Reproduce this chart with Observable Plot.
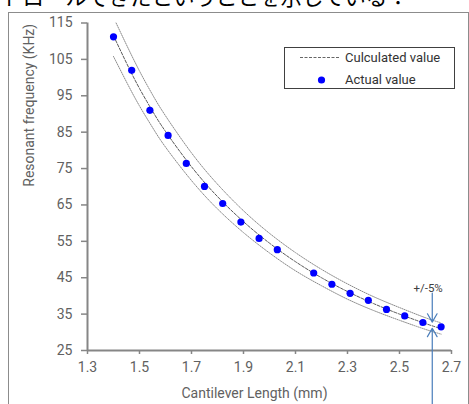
<!DOCTYPE html>
<html>
<head>
<meta charset="utf-8">
<script src="https://cdn.jsdelivr.net/npm/d3@7"></script>
<script src="https://cdn.jsdelivr.net/npm/@observablehq/plot@0.6"></script>
<style>
  body { margin: 0; background: #fff; font-family: Roboto, "Liberation Sans", sans-serif; }
  #wrap { position: relative; width: 469px; height: 404px; overflow: hidden; }
  #head { position: absolute; left: 0; top: 0; width: 469px; height: 12px; overflow: hidden; }
  #head span { position: absolute; left: -42px; top: -15px; font-family: "Noto Sans CJK JP"; font-size: 21.5px; line-height: 22px; color: #000; white-space: nowrap; }
  #frame { position: absolute; left: 8px; top: 12px; width: 459px; height: 420px; border: 1px solid #8c8c8c; }
  #chart { position: absolute; left: 0; top: 0; }
  #legend { position: absolute; left: 284px; top: 47px; width: 169px; height: 40px; border: 1px solid #404040; background: #fff; font-size: 13px; color: #333; }
  #legend svg { position: absolute; left: 0; top: 0; }
  #legend .t { position: absolute; left: 60px; line-height: 14px; white-space: nowrap; }
</style>
</head>
<body>
<div id="wrap">
  <div id="head"><span id="headtext"></span></div>
  <div id="frame"></div>
  <div id="chart"></div>
  <div id="legend">
    <svg width="169" height="40">
      <line x1="15" x2="55" y1="9.5" y2="9.5" stroke="#666" stroke-width="1" stroke-dasharray="3,1.5"></line>
      <circle cx="36.5" cy="32" r="3.6" fill="#0000ff"></circle>
    </svg>
    <div class="t" style="top:3px" id="leg1"></div>
    <div class="t" style="top:25px" id="leg2"></div>
  </div>
</div>
<script>
// ---- data ----
const headText = "コントロールできたということを示している：";
const xTicks = [1.3, 1.5, 1.7, 1.9, 2.1, 2.3, 2.5, 2.7];
const yTicks = [25, 35, 45, 55, 65, 75, 85, 95, 105, 115];

const actualLength = [1.40, 1.47, 1.54, 1.61, 1.68, 1.75, 1.82, 1.89, 1.96, 2.03, 2.17, 2.24, 2.31, 2.38, 2.45, 2.52, 2.59, 2.66];
const actualFreq   = [111.2, 102.0, 91.0, 84.1, 76.4, 70.1, 65.4, 60.3, 55.8, 52.7, 46.3, 43.2, 40.7, 38.8, 36.3, 34.5, 32.7, 31.5];

const calcLength = [1.40, 1.45, 1.50, 1.55, 1.60, 1.70, 1.80, 1.90, 2.00, 2.10, 2.20, 2.30, 2.40, 2.50, 2.60, 2.66];
const calcFreq   = [111.5, 104.0, 97.0, 90.8, 85.2, 75.5, 67.3, 60.4, 54.5, 49.4, 45.0, 41.2, 37.9, 35.0, 32.4, 31.0];

const upperLength = [1.41, 1.45, 1.50, 1.55, 1.60, 1.70, 1.80, 1.90, 2.00, 2.10, 2.20, 2.30, 2.40, 2.50, 2.60, 2.66];
const upperFreq   = [115.0, 109.0, 101.8, 95.3, 89.5, 79.3, 70.7, 63.4, 57.2, 51.9, 47.3, 43.3, 39.8, 36.8, 34.0, 32.6];

const lowerLength = [1.40, 1.45, 1.50, 1.55, 1.60, 1.70, 1.80, 1.90, 2.00, 2.10, 2.20, 2.30, 2.40, 2.50, 2.60, 2.66];
const lowerFreq   = [105.8, 98.8, 92.2, 86.3, 80.9, 71.7, 63.9, 57.4, 51.8, 46.9, 42.8, 39.1, 36.0, 33.3, 30.8, 29.5];

const seriesNames = ["Culculated value", "Actual value"];
const xLabel = "Cantilever Length (mm)";
const yLabel = "Resonant frequency (KHz)";

// tolerance annotation
const tolLabel = "+/-5%";
const tolX = 2.626;
const tolLabelPos = [2.61, 42.2];
const arrowFrom = [40.8, 10.3];
const arrowTo = [32.8, 31.1];

// ---- build ----
document.getElementById("headtext").textContent = headText;
document.getElementById("leg1").textContent = seriesNames[0];
document.getElementById("leg2").textContent = seriesNames[1];

const zip = (xs, ys) => xs.map((x, i) => ({x, y: ys[i]}));
const actual = zip(actualLength, actualFreq);
const calc = zip(calcLength, calcFreq);
const upper = zip(upperLength, upperFreq);
const lower = zip(lowerLength, lowerFreq);
const arrows = arrowFrom.map((y1, i) => ({x: tolX, y1, y2: arrowTo[i]}));

const axisColor = "#868686";
const textColor = "#616161";

const plot = Plot.plot({
  width: 469,
  height: 404,
  marginLeft: 87,
  marginRight: 18,
  marginTop: 22.5,
  marginBottom: 54,
  style: {fontFamily: "Roboto, 'Liberation Sans', sans-serif", background: "transparent", overflow: "visible"},
  x: {domain: [1.3, 2.7]},
  y: {domain: [25, 115]},
  marks: [
    Plot.line(upper, {x: "x", y: "y", stroke: "#8a8a8a", strokeWidth: 1, strokeDasharray: "1,1.2", curve: "natural"}),
    Plot.line(lower, {x: "x", y: "y", stroke: "#8a8a8a", strokeWidth: 1, strokeDasharray: "1,1.2", curve: "natural"}),
    Plot.line(calc, {x: "x", y: "y", stroke: "#5a5a5a", strokeWidth: 1, strokeDasharray: "3,1.5", curve: "natural"}),
    Plot.dot(actual, {x: "x", y: "y", r: 3.6, fill: "#0000ff", stroke: "none"}),
    Plot.axisY({ticks: yTicks, tickSize: 6, tickPadding: 9, stroke: axisColor, strokeWidth: 1.5, color: textColor, fontSize: 14, label: null}),
    Plot.axisX({ticks: xTicks, tickFormat: d => d.toFixed(1), tickSize: 4, tickPadding: 8, stroke: axisColor, strokeWidth: 1.5, color: textColor, fontSize: 14, label: null}),
    Plot.ruleX([1.3], {stroke: axisColor, strokeWidth: 2}),
    Plot.ruleY([25], {stroke: axisColor, strokeWidth: 2}),
    Plot.arrow(arrows, {x1: "x", x2: "x", y1: "y1", y2: "y2", stroke: "#4a7ebb", strokeWidth: 1.2, headLength: 12, headAngle: 60}),
    Plot.text([tolLabel], {x: () => tolLabelPos[0], y: () => tolLabelPos[1], text: d => d, fontSize: 11.5, fill: "#404040"}),
    Plot.text([xLabel], {text: d => d, frameAnchor: "bottom", dx: -15, dy: 47, fontSize: 14, fill: textColor}),
    Plot.text([yLabel], {text: d => d, frameAnchor: "left", rotate: -90, dx: -58, fontSize: 14, fill: textColor})
  ]
});
document.getElementById("chart").appendChild(plot);
</script>
</body>
</html>
